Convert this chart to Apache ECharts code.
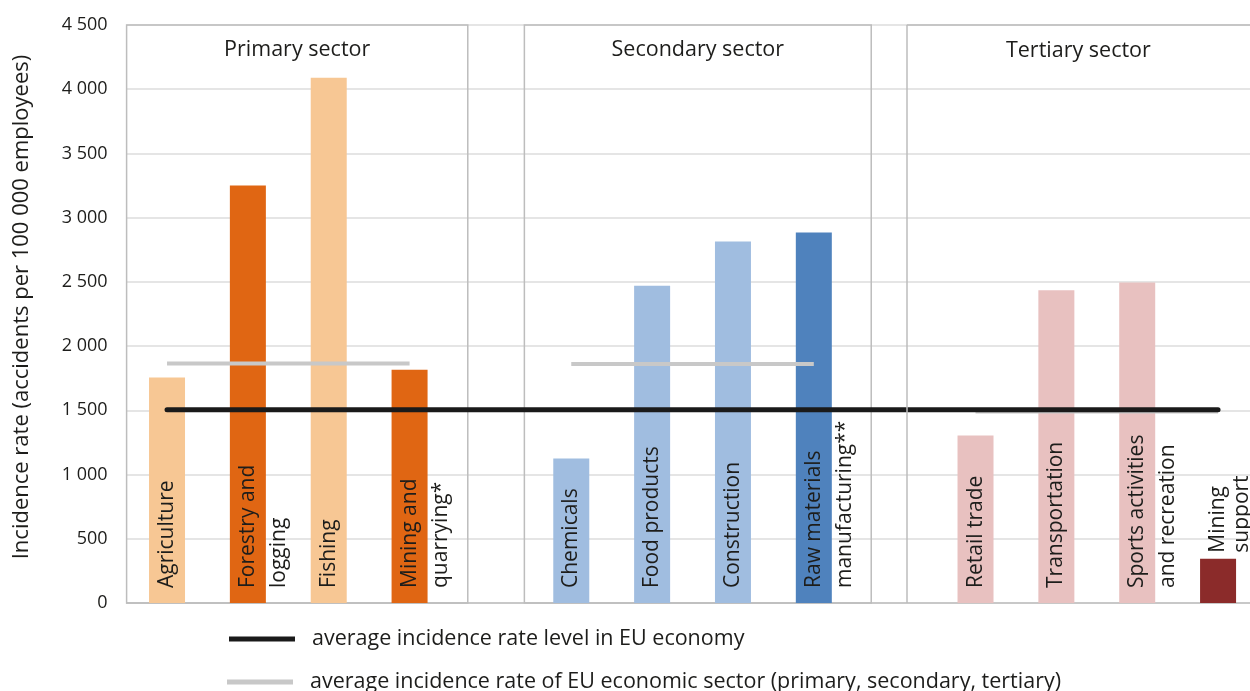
<!DOCTYPE html>
<html>
<head>
<meta charset="utf-8">
<script src="https://cdn.jsdelivr.net/npm/echarts@6/dist/echarts.min.js"></script>
<style>
  html, body { margin: 0; padding: 0; background: #fff; }
  #chart { width: 1250px; height: 691px; }
</style>
</head>
<body>
<div id="chart"></div>
<script>
// categories (empty strings are the spacers between sectors)
const categories = [
    'Agriculture', 'Forestry and\nlogging', 'Fishing', 'Mining and\nquarrying*', '',
    'Chemicals', 'Food products', 'Construction', 'Raw materials\nmanufacturing**', '',
    'Retail trade', 'Transportation', 'Sports activities\nand recreation', 'Mining\nsupport'
];
const incidence = [1755, 3250, 4090, 1815, null, 1125, 2470, 2815, 2885, null, 1305, 2435, 2495, 345];
const euAverage = [1505, 1505, 1505, 1505, 1505, 1505, 1505, 1505, 1505, 1505, 1505, 1505, 1505, 1505];
const sectorAverage = [1865, 1865, 1865, 1865, null, 1860, 1860, 1860, 1860, null, 1490, 1490, 1490, 1490];
const sectors = ['Primary sector', 'Secondary sector', 'Tertiary sector'];
const yTicks = [0, 500, 1000, 1500, 2000, 2500, 3000, 3500, 4000, 4500];

const barColors = ['#F7C794', '#E06613', '#F7C794', '#E06613', '#fff',
                   '#A0BDE0', '#A0BDE0', '#A0BDE0', '#4F82BD', '#fff',
                   '#E8C1C0', '#E8C1C0', '#E8C1C0', '#8B2B2A'];
// sector frames, in category-slot units on the x axis
const boxSpans = [[-0.52, 3.72], [4.42, 8.71], [9.15, 13.395]];
const X_MAX = 13.395;

const EU_NAME = 'average incidence rate level in EU economy';
const SECTOR_NAME = 'average incidence rate of EU economic sector (primary, secondary, tertiary)';

const FONT = '"Open Sans", sans-serif';
const TXT = '#1d1d1b';
const FRAME = '#bdbdbd';
const fmt = (v) => String(v).replace(/\B(?=(\d{3})+(?!\d))/g, ' ');

const chart = echarts.init(document.getElementById('chart'));

// the last slot runs past the right edge of the picture, so the x axis is a
// slot-index value axis cut off a bit before the end of slot 13
const barData = incidence.map((v, i) => {
    const item = { value: [i, v], itemStyle: { color: barColors[i] } };
    if (i === 13) {
        item.label = { position: 'top', distance: 6, lineHeight: 24, offset: [0, -12] };
    }
    return item;
});
const toPairs = (arr) => arr.map((v, i) => [i, v]);

// tertiary frame is open on the right (cut by the picture edge): no box border,
// only its left and top edges
const frameData = sectors.map((s, i) => {
    const first = { name: s, coord: [boxSpans[i][0], 4500] };
    if (i === 2) first.itemStyle = { borderWidth: 0 };
    return [first, { coord: [boxSpans[i][1], 0] }];
});
const t = boxSpans[2];

const legendBase = {
    orient: 'horizontal', itemWidth: 66, itemHeight: 5, icon: 'rect',
    textStyle: { fontSize: 21.5, color: TXT, fontFamily: FONT, padding: [0, 0, 0, 12] }
};

const option = {
    animation: false,
    textStyle: { fontFamily: FONT },
    grid: { left: 126.6, right: 0, top: 25, bottom: 88, containLabel: false },
    legend: [
        Object.assign({}, legendBase, { left: 224, top: 623, data: [EU_NAME] }),
        Object.assign({}, legendBase, { left: 222, top: 666, data: [SECTOR_NAME] })
    ],
    xAxis: {
        type: 'value', min: -0.5, max: X_MAX,
        axisLine: { show: true, onZero: false, lineStyle: { color: '#bfbfbf', width: 1.5 } },
        axisTick: { show: false }, axisLabel: { show: false }, splitLine: { show: false }
    },
    yAxis: {
        type: 'value', min: 0, max: 4500, interval: 500,
        name: 'Incidence rate (accidents per 100 000 employees)',
        nameLocation: 'middle', nameGap: 94,
        nameTextStyle: { fontSize: 22, color: TXT, fontFamily: FONT, padding: [0, 0, 0, 14] },
        axisLine: { show: false }, axisTick: { show: false },
        axisLabel: { fontSize: 18, color: TXT, margin: 19, formatter: (v) => yTicks.includes(v) ? fmt(v) : '' },
        splitLine: { lineStyle: { color: '#dcdcdc', width: 1.5 } }
    },
    series: [
        {
            name: 'frames', type: 'line', data: [], silent: true,
            markArea: {
                silent: true,
                itemStyle: { color: 'rgba(0,0,0,0)', borderColor: FRAME, borderWidth: 1.5 },
                label: { show: true, position: 'insideTop', distance: 15, fontSize: 21.5, color: TXT, fontFamily: FONT },
                data: frameData
            },
            markLine: {
                silent: true, symbol: 'none', label: { show: false },
                lineStyle: { color: FRAME, width: 1.5, type: 'solid' },
                data: [
                    [{ coord: [t[0], 0] }, { coord: [t[0], 4500] }],
                    [{ coord: [t[0], 4500] }, { coord: [t[1], 4500] }]
                ]
            }
        },
        {
            name: 'incidence', type: 'bar', barWidth: 36, data: barData,
            label: {
                show: true, position: 'insideBottom', distance: 15, rotate: 90,
                align: 'left', verticalAlign: 'top', lineHeight: 31, offset: [0, -15.5],
                fontSize: 21, color: TXT, fontFamily: FONT,
                formatter: (p) => categories[p.dataIndex]
            }
        },
        {
            name: SECTOR_NAME,
            type: 'line', data: toPairs(sectorAverage), symbol: 'none', z: 3,
            color: '#c8c8c8',
            lineStyle: { color: '#c8c8c8', width: 4 }
        },
        {
            name: EU_NAME,
            type: 'line', data: toPairs(euAverage), symbol: 'none', z: 4,
            color: '#1a1a1a',
            lineStyle: { color: '#1a1a1a', width: 5, cap: 'round' }
        }
    ]
};
chart.setOption(option);
</script>
</body>
</html>
